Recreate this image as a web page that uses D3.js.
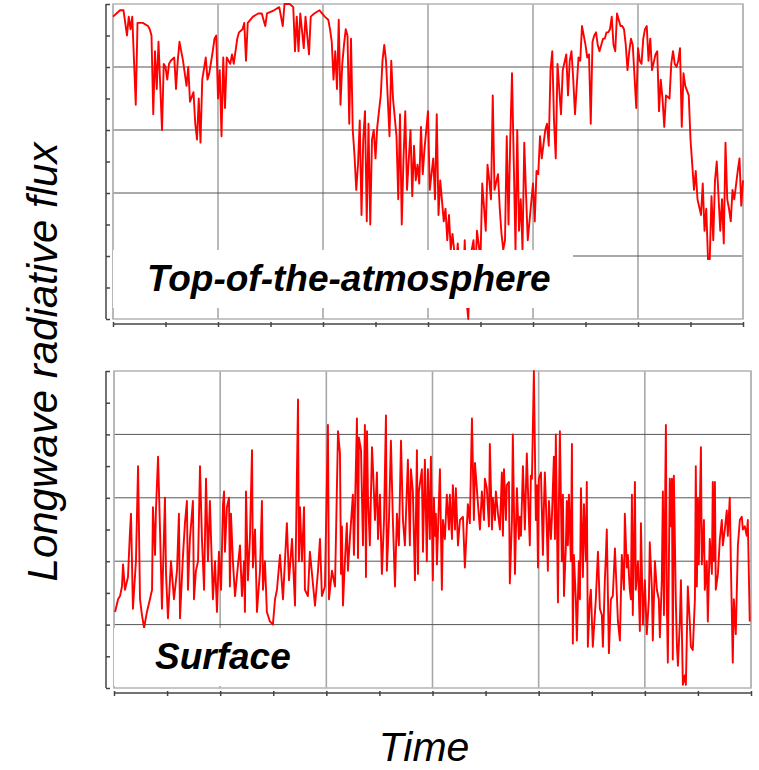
<!DOCTYPE html>
<html>
<head>
<meta charset="utf-8">
<script src="https://cdn.jsdelivr.net/npm/d3@7"></script>
<style>
  body { margin: 0; background: #fff; }
  svg { display: block; }
</style>
</head>
<body>
<div id="chart"></div>
<script>
// day of record (0..360) and flux (W/m2)
var toaDay = [0,2,4,6,8,9,10,11,13,14,17,20,21,22,23,24,25,26,28,29,30,31,32,33,35,36,37,38,40,42,43,44,46,47,48,49,50,51,53,54,55,57,58,59,60,61,62,63,64,65,67,68,69,71,72,74,75,76,77,80,83,85,87,88,92,95,97,98,101,103,104,105,106,107,109,110,112,113,115,118,121,123,124,125,126,127,128,129,130,131,132,133,134,135,136,137,138,139,140,141,142,143,144,145,146,147,148,149,150,151,153,154,155,156,157,158,159,160,162,163,164,165,166,167,168,170,171,172,173,174,175,176,177,178,180,181,183,184,185,186,187,189,190,191,192,193,194,196,197,198,199,200,201,202,203,204,205,206,207,208,210,211,213,214,215,216,217,218,220,221,222,223,224,225,226,227,228,230,231,232,233,234,235,236,237,239,240,241,242,243,244,245,247,248,249,250,251,252,253,254,255,256,257,259,260,261,262,263,264,266,267,268,270,271,272,273,274,275,276,277,278,280,281,282,283,284,285,286,287,288,290,291,292,293,294,295,296,297,299,300,301,302,303,304,305,306,307,308,310,311,312,313,314,315,316,318,319,320,321,322,323,324,325,326,327,329,330,331,332,333,334,336,337,338,339,340,341,342,343,344,345,347,348,349,350,351,352,353,354,355,357,358,359,360];
var toaFlux = [276,277,278,278,270,276,272,276,248,274,274,273,272,270,245,265,253,268,240,261,260,256,261,262,263,253,262,268,262,254,260,249,252,242,237,250,236,256,263,256,258,265,269,270,250,259,238,263,247,263,261,264,261,269,271,272,274,262,274,276,277,277,273,277,278,279,273,280,280,279,265,276,265,277,266,276,264,276,277,278,276,275,272,268,256,265,253,275,248,261,267,272,270,242,269,240,232,221,229,243,213,237,246,211,242,210,237,240,231,241,251,262,267,262,250,238,262,250,238,218,245,210,231,246,221,240,219,235,224,229,223,241,226,234,246,221,231,218,245,213,224,211,215,205,213,202,207,196,204,192,199,189,205,186,180,196,202,205,194,208,199,223,208,229,224,218,251,221,226,215,207,202,205,238,210,237,258,202,240,208,218,202,236,220,205,217,223,211,227,226,238,231,240,242,235,259,265,243,231,261,253,245,259,264,251,262,265,256,245,263,262,273,267,263,264,242,268,270,271,267,265,269,269,271,271,272,276,267,265,277,273,273,272,267,259,265,269,267,247,266,262,261,269,272,273,262,269,259,264,265,246,256,250,241,251,250,261,265,261,260,262,266,241,258,254,251,237,229,221,227,218,213,223,208,215,199,199,219,205,224,230,208,218,204,236,218,215,211,221,218,227,231,216,224];

var sfcDay = [0.6,2.3,3.4,4.5,5.1,6.2,7.9,9.0,9.6,10.7,12.4,13.6,14.7,15.8,17.0,18.6,20.3,21.5,22.0,23.2,23.7,24.9,26.0,27.1,28.8,29.4,30.5,32.2,33.9,35.6,36.7,37.3,39.0,40.1,41.2,41.8,42.9,44.6,45.2,46.3,47.5,48.6,49.7,50.9,52.0,53.1,54.2,55.9,57.1,58.2,59.3,60.5,61.6,62.2,62.7,63.8,65.0,65.5,66.1,67.2,68.4,70.1,71.2,72.3,73.5,74.0,74.6,75.7,76.8,78.0,78.5,79.7,80.8,82.5,83.6,84.2,85.3,86.4,88.1,89.8,91.0,92.1,93.8,95.5,96.6,97.7,98.9,100.6,102.3,104.0,104.5,105.1,106.2,107.4,107.9,109.6,110.7,111.9,113.6,115.3,116.4,117.5,119.2,120.9,121.5,123.2,124.9,126.6,127.7,128.3,128.8,129.4,130.5,131.6,132.2,133.3,135.0,135.6,137.3,137.9,138.4,139.6,140.7,141.8,142.4,143.0,143.5,144.6,145.8,146.3,147.5,148.6,149.2,150.3,151.4,152.6,153.7,154.2,155.4,156.5,157.6,158.8,159.9,161.0,162.2,163.3,164.4,166.1,167.2,167.8,168.9,170.1,171.2,171.8,172.3,174.0,174.6,175.7,176.8,177.4,178.5,179.1,180.2,180.8,181.4,181.9,182.5,184.2,185.3,185.9,187.0,188.1,189.3,189.8,191.0,191.5,192.7,193.2,194.4,195.5,197.2,198.3,200.0,201.1,202.3,203.4,204.0,205.7,206.8,207.9,209.1,209.6,210.7,211.9,212.4,213.6,214.1,215.3,215.8,217.0,218.1,219.2,219.8,220.4,221.5,222.0,223.2,223.7,224.9,225.4,226.6,227.7,228.8,229.4,230.0,231.1,232.2,233.3,234.5,235.0,235.6,236.2,237.3,238.4,239.0,239.6,240.1,241.3,242.4,243.0,243.5,244.6,245.2,245.8,246.9,247.5,248.6,249.2,249.7,250.9,251.4,252.0,253.1,253.7,254.3,255.4,255.9,256.5,257.1,258.2,258.8,259.3,259.9,261.0,261.6,262.7,263.3,263.9,265.0,265.6,266.7,267.2,267.8,268.9,269.5,270.6,272.3,273.5,274.6,275.7,276.3,277.4,278.0,278.5,279.7,280.8,281.9,283.1,284.8,285.9,287.0,288.2,288.7,289.8,290.4,291.5,292.1,292.7,293.2,294.4,294.9,296.1,297.2,297.8,298.9,300.0,301.1,302.3,302.8,304.0,304.5,305.7,306.8,307.9,308.5,309.6,310.2,310.8,311.9,312.4,313.0,314.1,314.7,315.3,315.8,316.4,317.5,318.1,318.7,319.8,320.4,321.5,322.6,323.2,324.3,325.4,326.0,327.1,328.3,328.8,329.4,330.0,330.5,331.7,332.2,333.4,333.9,335.0,335.6,336.7,337.9,338.4,339.0,339.6,340.1,341.3,342.4,343.5,344.1,345.2,346.3,346.9,348.0,348.6,349.7,350.3,351.4,352.6,353.7,354.8,355.4,356.5,357.6,358.2,359.3];
var sfcFlux = [274,278,279,282,289,281,285,299,305,275,290,320,278,273,269,274,278,281,307,292,306,323,300,275,310,286,272,290,278,287,305,272,292,302,309,281,297,309,278,287,290,320,297,281,316,290,309,278,290,274,293,281,308,312,293,307,310,282,305,290,279,289,295,279,290,274,312,284,297,325,288,300,274,287,309,281,290,274,271,270,278,281,292,278,290,302,284,297,276,341,290,307,290,307,281,279,293,286,276,287,297,279,282,333,278,287,282,331,324,286,301,276,290,302,287,297,311,292,335,291,329,325,295,333,285,331,311,295,326,320,303,318,297,311,286,303,336,287,303,328,303,282,305,295,328,303,295,322,295,319,312,284,325,286,312,319,293,322,290,319,297,323,284,310,298,305,289,319,281,303,297,311,300,311,297,314,300,313,295,303,304,288,308,302,335,303,321,308,300,312,303,316,313,301,327,300,310,303,312,305,300,318,298,319,303,314,315,283,303,330,286,313,297,304,298,320,300,324,303,295,317,316,350,303,314,288,316,318,292,308,318,300,287,309,297,304,323,297,330,277,307,331,290,311,279,295,309,295,311,290,327,264,292,278,265,290,278,313,285,308,290,315,263,278,281,263,278,293,275,273,263,284,292,300,261,278,279,294,271,265,292,281,305,288,292,281,278,311,273,315,281,290,268,302,270,284,267,278,296,281,265,290,281,278,266,284,312,273,333,278,258,316,301,316,259,317,278,264,257,271,284,251,254,251,282,271,263,262,278,320,282,310,289,326,289,303,281,290,271,297,286,315,290,315,281,286,297,303,295,300,306,298,310,290,258,278,267,295,303,304,300,301,298,303,271];

var dayTicks = d3.range(0, 361, 60);
var dayMinor = d3.range(0, 361, 30);

var W = 759, H = 770;
var svg = d3.select('#chart').append('svg').attr('width', W).attr('height', H);

var panels = [
  { day: toaDay, flux: toaFlux, yDomain: [180, 280], step: 20,
    left: 113, right: 743, top: 4, bottom: 319, axisX: 106, axisY: 325,
    label: 'Top-of-the-atmosphere', box: [113, 250, 573, 308], textX: 147, textY: 291 },
  { day: sfcDay, flux: sfcFlux, yDomain: [250, 350], step: 20,
    left: 114, right: 751, top: 371, bottom: 688, axisX: 106, axisY: 694,
    label: 'Surface', box: [114, 628, 325, 686], textX: 155, textY: 669 }
];

panels.forEach(function(p) {
  var x = d3.scaleLinear().domain([0, 360]).range([p.left, p.right]);
  var y = d3.scaleLinear().domain(p.yDomain).range([p.bottom, p.top]);
  var g = svg.append('g');
  var yMajor = d3.range(p.yDomain[0], p.yDomain[1] + 0.1, p.step);
  var yMinor = d3.range(p.yDomain[0], p.yDomain[1] + 0.1, p.step / 2);

  // vertical grid
  g.selectAll('.vgrid').data(dayTicks).enter().append('line')
    .attr('x1', d => x(d)).attr('x2', d => x(d))
    .attr('y1', p.top).attr('y2', p.bottom)
    .attr('stroke', '#a8a8a8').attr('stroke-width', 1.6);

  // horizontal grid
  g.selectAll('.hgrid').data(yMajor.slice(1, -1)).enter().append('line')
    .attr('x1', p.left).attr('x2', p.right)
    .attr('y1', d => y(d)).attr('y2', d => y(d))
    .attr('stroke', '#555').attr('stroke-width', 1);

  // frame
  g.append('rect').attr('x', p.left).attr('y', p.top)
    .attr('width', p.right - p.left).attr('height', p.bottom - p.top)
    .attr('fill', 'none').attr('stroke', '#b8b8b8').attr('stroke-width', 1.6);

  var line = d3.line().x((d, i) => x(p.day[i])).y(d => y(d));
  g.append('path').datum(p.flux).attr('d', line)
    .attr('fill', 'none').attr('stroke', '#ff0000').attr('stroke-width', 1.9)
    .attr('stroke-linejoin', 'round');

  // label box
  g.append('rect').attr('x', p.box[0]).attr('y', p.box[1])
    .attr('width', p.box[2] - p.box[0]).attr('height', p.box[3] - p.box[1])
    .attr('fill', '#fff');
  g.append('text').attr('x', p.textX).attr('y', p.textY)
    .attr('font-family', 'Liberation Sans, Arial, sans-serif')
    .attr('font-weight', 'bold').attr('font-style', 'italic')
    .attr('font-size', 37).attr('fill', '#000').text(p.label);

  // left axis
  var ya = d3.axisRight(y).tickValues(yMinor).tickSize(4).tickFormat('');
  var ga = svg.append('g').attr('transform', 'translate(' + p.axisX + ',0)').call(ya);
  ga.select('.domain').attr('d', 'M0,' + p.top + 'V' + p.bottom);
  ga.selectAll('line, path').attr('stroke', '#444').attr('stroke-width', 1.5);

  // bottom axis
  var xa = d3.axisBottom(x).tickValues(dayMinor).tickSize(3).tickFormat('');
  var gx = svg.append('g').attr('transform', 'translate(0,' + (p.axisY - 1) + ')').call(xa);
  gx.select('.domain').attr('d', 'M' + p.left + ',0H' + p.right);
  gx.selectAll('.tick line').attr('y1', -2);
  gx.selectAll('line, path').attr('stroke', '#444').attr('stroke-width', 1.5);
});

svg.append('text')
  .attr('transform', 'translate(57,362) rotate(-90)')
  .attr('text-anchor', 'middle')
  .attr('font-family', 'Liberation Sans, Arial, sans-serif')
  .attr('font-style', 'italic').attr('font-size', 42)
  .text('Longwave radiative flux');

svg.append('text')
  .attr('x', 424).attr('y', 761)
  .attr('text-anchor', 'middle')
  .attr('font-family', 'Liberation Sans, Arial, sans-serif')
  .attr('font-style', 'italic').attr('font-size', 41)
  .text('Time');
</script>
</body>
</html>
